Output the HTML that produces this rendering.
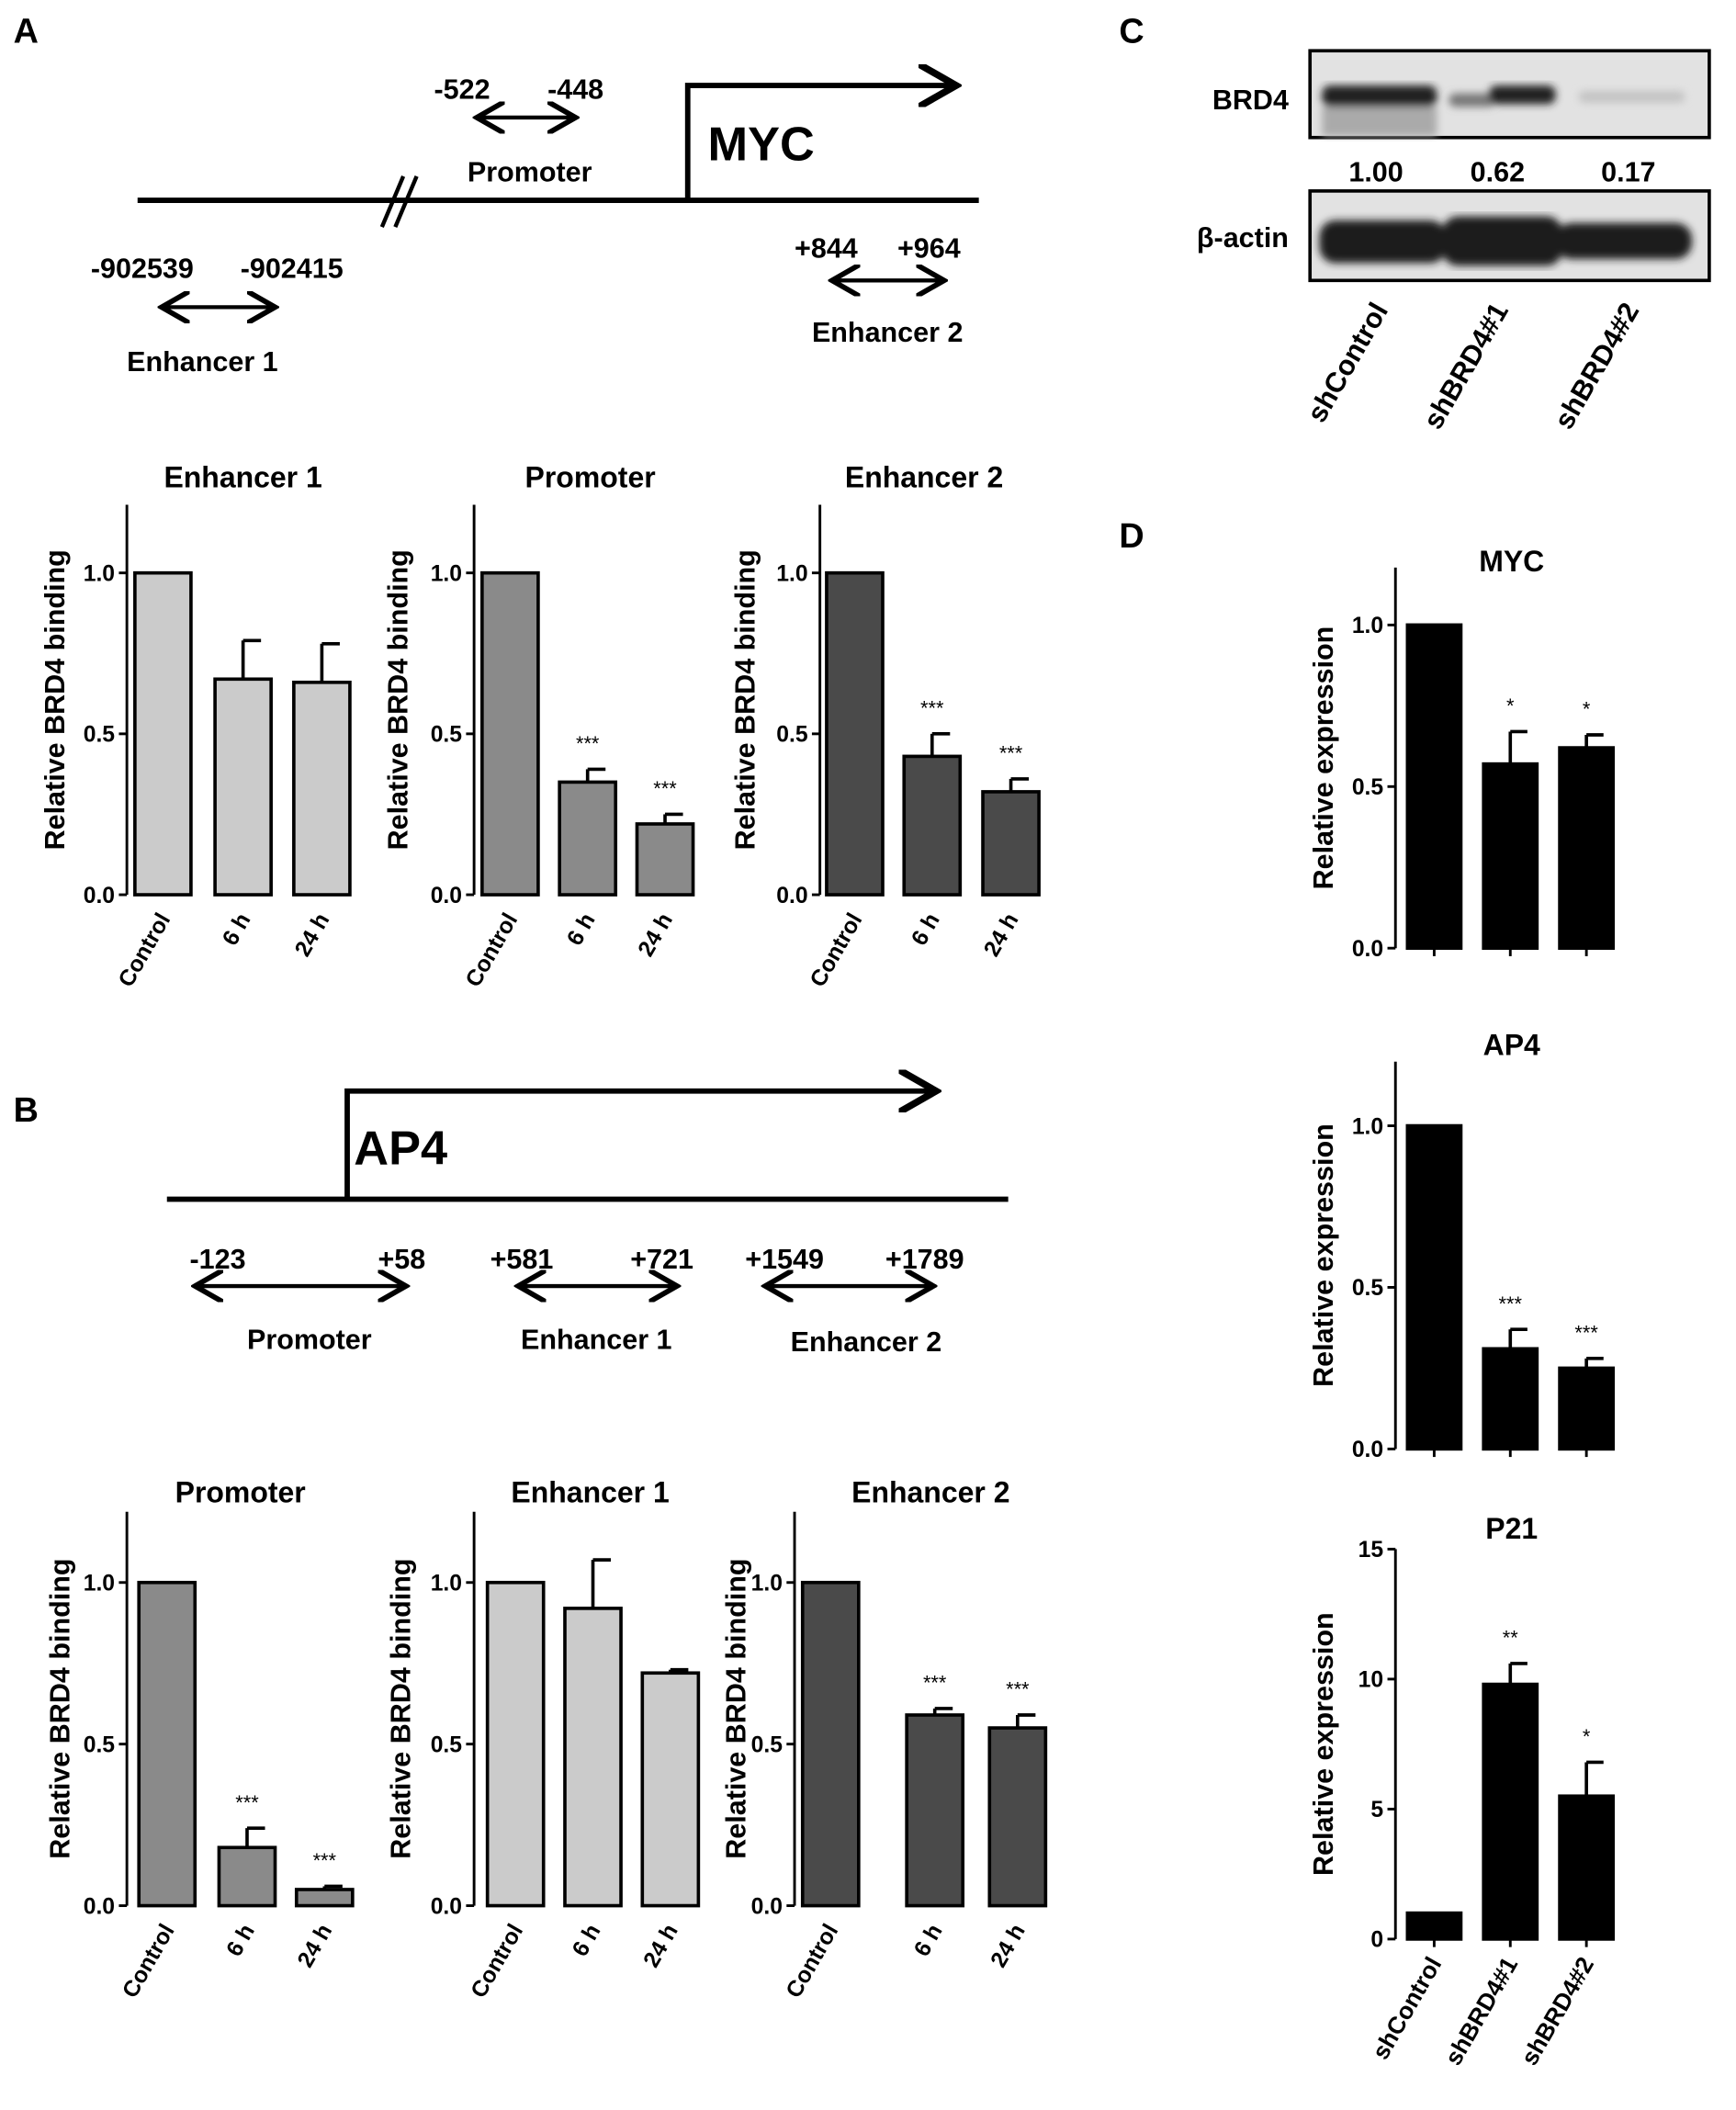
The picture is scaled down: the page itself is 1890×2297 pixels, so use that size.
<!DOCTYPE html>
<html><head><meta charset="utf-8"><style>
html,body{margin:0;padding:0;background:#fff;}
svg{display:block;font-family:"Liberation Sans",Arial,sans-serif;}
</style></head><body>
<svg id="fig" width="1890" height="2297" viewBox="0 0 1300 1580" xmlns="http://www.w3.org/2000/svg">
<defs>
<marker id="ah" markerWidth="8" markerHeight="8" refX="6" refY="4" orient="auto-start-reverse" markerUnits="strokeWidth"><path d="M0,0 L7,4 L0,8" fill="none" stroke="#000" stroke-width="1.3"/></marker>
<filter id="blur"><feGaussianBlur stdDeviation="3"/></filter>
</defs>
<g font-weight="bold">
<text x="10" y="32" font-size="26">A</text>
<g>
<line x1="103" y1="150" x2="733" y2="150" stroke="#000" stroke-width="4"/>
<line x1="286" y1="170" x2="302" y2="132" stroke="#000" stroke-width="3"/>
<line x1="296" y1="170" x2="312" y2="132" stroke="#000" stroke-width="3"/>
<polyline points="515,150 515,64 712,64" fill="none" stroke="#000" stroke-width="4" marker-end="url(#ah)"/>
<text x="530" y="120" font-size="36">MYC</text>
<text x="325" y="74" font-size="21">-522</text><text x="410" y="74" font-size="21">-448</text>
<line x1="360" y1="88" x2="428" y2="88" stroke="#000" stroke-width="3" marker-start="url(#ah)" marker-end="url(#ah)"/>
<text x="350" y="136" font-size="21">Promoter</text>
<text x="68" y="208" font-size="21">-902539</text><text x="180" y="208" font-size="21">-902415</text>
<line x1="124" y1="230" x2="203" y2="230" stroke="#000" stroke-width="3" marker-start="url(#ah)" marker-end="url(#ah)"/>
<text x="95" y="278" font-size="21">Enhancer 1</text>
<text x="595" y="193" font-size="21">+844</text><text x="672" y="193" font-size="21">+964</text>
<line x1="626" y1="210" x2="704" y2="210" stroke="#000" stroke-width="3" marker-start="url(#ah)" marker-end="url(#ah)"/>
<text x="608" y="256" font-size="21">Enhancer 2</text>
</g>
<text x="10" y="840" font-size="26">B</text>
<g>
<line x1="125" y1="898" x2="755" y2="898" stroke="#000" stroke-width="4"/>
<polyline points="260,898 260,817 697,817" fill="none" stroke="#000" stroke-width="4" marker-end="url(#ah)"/>
<text x="265" y="872" font-size="36">AP4</text>
<text x="142" y="950" font-size="21">-123</text><text x="283" y="950" font-size="21">+58</text>
<line x1="149" y1="963" x2="301" y2="963" stroke="#000" stroke-width="3" marker-start="url(#ah)" marker-end="url(#ah)"/>
<text x="185" y="1010" font-size="21">Promoter</text>
<text x="367" y="950" font-size="21">+581</text><text x="472" y="950" font-size="21">+721</text>
<line x1="391" y1="963" x2="504" y2="963" stroke="#000" stroke-width="3" marker-start="url(#ah)" marker-end="url(#ah)"/>
<text x="390" y="1010" font-size="21">Enhancer 1</text>
<text x="558" y="950" font-size="21">+1549</text><text x="663" y="950" font-size="21">+1789</text>
<line x1="576" y1="963" x2="696" y2="963" stroke="#000" stroke-width="3" marker-start="url(#ah)" marker-end="url(#ah)"/>
<text x="592" y="1012" font-size="21">Enhancer 2</text>
</g>
<text x="838" y="32" font-size="26">C</text>
<g>
<rect x="981" y="38" width="299" height="65" fill="#e2e2e2" stroke="#000" stroke-width="2.5"/>
<g filter="url(#blur)">
<rect x="990" y="64" width="86" height="16" rx="6" fill="#222"/>
<rect x="990" y="80" width="86" height="22" fill="#aaa"/>
<rect x="1085" y="70" width="35" height="10" rx="5" fill="#777"/>
<rect x="1115" y="64" width="50" height="14" rx="6" fill="#222"/>
<rect x="1182" y="68" width="80" height="9" rx="5" fill="#c4c4c4"/>
</g>
<text x="965" y="82" text-anchor="end" font-size="21">BRD4</text>
<text x="1010" y="136" font-size="21">1.00</text>
<text x="1101" y="136" font-size="21">0.62</text>
<text x="1199" y="136" font-size="21">0.17</text>
<rect x="981" y="143" width="299" height="67" fill="#e2e2e2" stroke="#000" stroke-width="2.5"/>
<g filter="url(#blur)">
<rect x="988" y="165" width="95" height="32" rx="12" fill="#1a1a1a"/>
<rect x="1080" y="162" width="90" height="37" rx="12" fill="#1a1a1a"/>
<rect x="1165" y="167" width="102" height="27" rx="12" fill="#1a1a1a"/>
</g>
<text x="965" y="185" text-anchor="end" font-size="21">β-actin</text>
<text transform="translate(1040,232) rotate(-60)" text-anchor="end" font-size="21">shControl</text>
<text transform="translate(1130,232) rotate(-60)" text-anchor="end" font-size="21">shBRD4#1</text>
<text transform="translate(1228,232) rotate(-60)" text-anchor="end" font-size="21">shBRD4#2</text>
</g>
<text x="838" y="410" font-size="26">D</text>
<g id="charts"></g>
</g>
</svg>
<script>
const catsTime = ["Control", "6 h", "24 h"];
const catsSh = ["shControl", "shBRD4#1", "shBRD4#2"];
const a1Vals = [1.0, 0.67, 0.66]; const a1Err = [0, 0.12, 0.12]; const a1Stars = ["", "", ""];
const a2Vals = [1.0, 0.35, 0.22]; const a2Err = [0, 0.04, 0.03]; const a2Stars = ["", "***", "***"];
const a3Vals = [1.0, 0.43, 0.32]; const a3Err = [0, 0.07, 0.04]; const a3Stars = ["", "***", "***"];
const b1Vals = [1.0, 0.18, 0.05]; const b1Err = [0, 0.06, 0.01]; const b1Stars = ["", "***", "***"];
const b2Vals = [1.0, 0.92, 0.72]; const b2Err = [0, 0.15, 0.01]; const b2Stars = ["", "", ""];
const b3Vals = [1.0, 0.59, 0.55]; const b3Err = [0, 0.02, 0.04]; const b3Stars = ["", "***", "***"];
const mycVals = [1.0, 0.57, 0.62]; const mycErr = [0, 0.1, 0.04]; const mycStars = ["", "*", "*"];
const ap4Vals = [1.0, 0.31, 0.25]; const ap4Err = [0, 0.06, 0.03]; const ap4Stars = ["", "***", "***"];
const p21Vals = [1.0, 9.8, 5.5]; const p21Err = [0, 0.8, 1.3]; const p21Stars = ["", "**", "*"];
const ticks01 = [0.0, 0.5, 1.0]; const ticks01Labels = ["0.0", "0.5", "1.0"];
const ticksP21 = [0, 5, 10, 15]; const ticksP21Labels = ["0", "5", "10", "15"];

const NS = "http://www.w3.org/2000/svg";
const root = document.getElementById("charts");
function mk(tag, attrs, parent) {
  const e = document.createElementNS(NS, tag);
  for (const k in attrs) e.setAttribute(k, attrs[k]);
  parent.appendChild(e); return e;
}
function chart(o) {
  const g = mk("g", {}, root);
  
  
  const y = v => o.y0 - (v - o.vmin) / (o.vmax - o.vmin) * (o.y0 - o.yTopVal);
  mk("line", {x1:o.ax, y1:o.yAxisTop, x2:o.ax, y2:o.y0, stroke:"#000", "stroke-width":2}, g);
  o.ticks.forEach((t, i) => {
    mk("line", {x1:o.ax-6, y1:y(t), x2:o.ax, y2:y(t), stroke:"#000", "stroke-width":2}, g);
    const tx = mk("text", {x:o.ax-9, y:y(t)+6, "text-anchor":"end", "font-size":17}, g);
    tx.textContent = o.tickLabels[i];
  });
  const tt = mk("text", {x:o.titleX, y:o.titleY, "text-anchor":"middle", "font-size":22}, g);
  
  
  tt.textContent = o.title;
  const yl = mk("text", {transform:`translate(${o.ylx},${(o.yAxisTop+o.y0)/2}) rotate(-90)`, "text-anchor":"middle", "font-size":o.ylfs}, g);
  
  
  yl.textContent = o.ylabel;
  o.vals.forEach((v, i) => {
    const cx = o.centers[i], w = o.bw;
    const top = y(v), err = o.err[i];
    if (err > 0) {
      mk("line", {x1:cx, y1:y(v+err), x2:cx, y2:top, stroke:"#000", "stroke-width":2.5}, g);
      mk("line", {x1:cx, y1:y(v+err), x2:cx+w*0.32, y2:y(v+err), stroke:"#000", "stroke-width":2.5}, g);
    }
    const r = mk("rect", {x:cx-w/2, y:top, width:w, height:o.y0-top, fill:o.color, stroke:"#000", "stroke-width":2.5}, g);
    
    
    if (o.stars[i]) {
      const s = mk("text", {x:cx, y:y(v+err)-14, "text-anchor":"middle", "font-size":15, "font-weight":"normal"}, g);
      s.textContent = o.stars[i];
    }
    if (o.xticks) mk("line", {x1:cx, y1:o.y0, x2:cx, y2:o.y0+6, stroke:"#000", "stroke-width":2}, g);
    if (!o.hideX) {
      const xl = mk("text", {transform:`translate(${cx+6},${o.y0+18}) rotate(-60)`, "text-anchor":"end", "font-size":o.xfs || 17}, g);
      
      
      xl.textContent = o.cats[i];
    }
  });
}
const base = {vmin:0, vmax:1, ticks:ticks01, tickLabels:ticks01Labels, ylabel:"Relative BRD4 binding", ylfs:21, cats:catsTime, bw:42};
chart(Object.assign({}, base, {name:"chart-a-enhancer1", ax:95, y0:670, yTopVal:429, yAxisTop:378, title:"Enhancer 1", titleX:182, titleY:365, ylx:48, centers:[122,182,241], vals:a1Vals, err:a1Err, stars:a1Stars, color:"#cbcbcb"}));
chart(Object.assign({}, base, {name:"chart-a-promoter", ax:355, y0:670, yTopVal:429, yAxisTop:378, title:"Promoter", titleX:442, titleY:365, ylx:305, centers:[382,440,498], vals:a2Vals, err:a2Err, stars:a2Stars, color:"#8a8a8a"}));
chart(Object.assign({}, base, {name:"chart-a-enhancer2", ax:614, y0:670, yTopVal:429, yAxisTop:378, title:"Enhancer 2", titleX:692, titleY:365, ylx:565, centers:[640,698,757], vals:a3Vals, err:a3Err, stars:a3Stars, color:"#4a4a4a"}));
chart(Object.assign({}, base, {name:"chart-b-promoter", ax:95, y0:1427, yTopVal:1185, yAxisTop:1132, title:"Promoter", titleX:180, titleY:1125, ylx:52, centers:[125,185,243], vals:b1Vals, err:b1Err, stars:b1Stars, color:"#8a8a8a"}));
chart(Object.assign({}, base, {name:"chart-b-enhancer1", ax:355, y0:1427, yTopVal:1185, yAxisTop:1132, title:"Enhancer 1", titleX:442, titleY:1125, ylx:307, centers:[386,444,502], vals:b2Vals, err:b2Err, stars:b2Stars, color:"#cbcbcb"}));
chart(Object.assign({}, base, {name:"chart-b-enhancer2", ax:595, y0:1427, yTopVal:1185, yAxisTop:1132, title:"Enhancer 2", titleX:697, titleY:1125, ylx:558, centers:[622,700,762], vals:b3Vals, err:b3Err, stars:b3Stars, color:"#4a4a4a"}));
const dbase = {vmin:0, vmax:1, ticks:ticks01, tickLabels:ticks01Labels, ylabel:"Relative expression", ylfs:21, cats:catsSh, bw:40, color:"#000", xticks:true, ylx:998, xfs:18};
chart(Object.assign({}, dbase, {name:"chart-d-myc", ax:1045, y0:710, yTopVal:468, yAxisTop:425, title:"MYC", titleX:1132, titleY:428, centers:[1074,1131,1188], vals:mycVals, err:mycErr, stars:mycStars, hideX:true}));
chart(Object.assign({}, dbase, {name:"chart-d-ap4", ax:1045, y0:1085, yTopVal:843, yAxisTop:795, title:"AP4", titleX:1132, titleY:790, centers:[1074,1131,1188], vals:ap4Vals, err:ap4Err, stars:ap4Stars, hideX:true}));
chart(Object.assign({}, dbase, {name:"chart-d-p21", ax:1045, y0:1452, yTopVal:1160, yAxisTop:1160, vmax:15, ticks:ticksP21, tickLabels:ticksP21Labels, title:"P21", titleX:1132, titleY:1152, centers:[1074,1131,1188], vals:p21Vals, err:p21Err, stars:p21Stars}));
</script>
</body></html>
